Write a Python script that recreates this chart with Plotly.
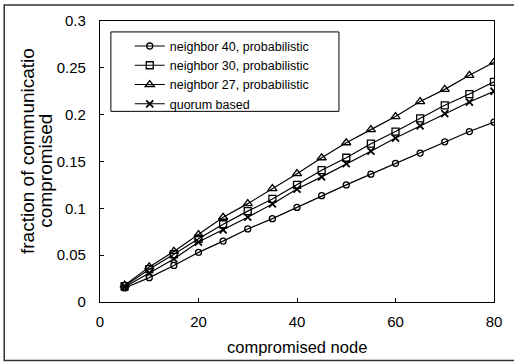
import plotly.graph_objects as go

nodes = [5, 10, 15, 20, 25, 30, 35, 40, 45, 50, 55, 60, 65, 70, 75, 80]
neighbor40 = [0.015, 0.026, 0.039, 0.053, 0.065, 0.078, 0.089, 0.101, 0.1135, 0.125,
              0.1365, 0.148, 0.159, 0.171, 0.182, 0.192]
neighbor30 = [0.017, 0.035, 0.051, 0.0675, 0.083, 0.097, 0.110, 0.125, 0.1407, 0.154,
              0.169, 0.182, 0.196, 0.210, 0.222, 0.235]
neighbor27 = [0.018, 0.0375, 0.054, 0.072, 0.0905, 0.105, 0.121, 0.137, 0.154, 0.170,
              0.184, 0.198, 0.214, 0.227, 0.242, 0.256]
quorum = [0.016, 0.031, 0.046, 0.064, 0.077, 0.0905, 0.1047, 0.1206, 0.1336, 0.1477,
          0.161, 0.175, 0.188, 0.201, 0.2135, 0.225]

series_names = ["neighbor 40, probabilistic", "neighbor 30, probabilistic",
                "neighbor 27, probabilistic", "quorum based"]
x_ticks = [0, 20, 40, 60, 80]
y_ticks = [0, 0.05, 0.1, 0.15, 0.2, 0.25, 0.3]
y_tick_labels = ["0", "0.05", "0.1", "0.15", "0.2", "0.25", "0.3"]

FONT = "Arial, Liberation Sans, sans-serif"

fig = go.Figure()
symbols = ["circle-open", "square-open", "triangle-up-open", "x-thin-open"]
sizes = [6, 7, 8, 7]
for name, ys, sym, sz in zip(series_names, [neighbor40, neighbor30, neighbor27, quorum], symbols, sizes):
    fig.add_trace(go.Scatter(
        x=nodes, y=ys, name=name, mode="lines+markers",
        line=dict(color="black", width=1.2),
        marker=dict(symbol=sym, size=sz, color="black",
                    line=dict(color="black", width=1.3 if sym != "x-thin-open" else 1.8)),
    ))

fig.update_layout(
    width=514, height=363,
    margin=dict(l=100, r=15, t=19, b=61, pad=0),
    paper_bgcolor="white", plot_bgcolor="white",
    font=dict(family=FONT, color="black", size=15),
    showlegend=True,
    legend=dict(
        x=0.0755, y=0.963, xanchor="left", yanchor="top",
        borderwidth=0, bgcolor="rgba(0,0,0,0)",
        font=dict(size=12.5, family=FONT), tracegroupgap=0,
    ),
    xaxis=dict(
        range=[0, 80], tickvals=x_ticks, ticks="inside", ticklen=4, tickcolor="black",
        showline=True, linecolor="black", linewidth=1.2, mirror=True, showgrid=False,
        zeroline=False, tickfont=dict(size=15), ticklabelstandoff=6,
    ),
    yaxis=dict(
        range=[0, 0.3], tickvals=y_ticks, ticktext=y_tick_labels, ticks="inside", ticklen=4,
        tickcolor="black", showline=True, linecolor="black", linewidth=1.2, mirror=True,
        showgrid=False, zeroline=False, tickfont=dict(size=15), ticklabelstandoff=10,
    ),
    annotations=[
        dict(text="compromised node", xref="paper", yref="paper", x=0.5, y=-0.159,
             xanchor="center", yanchor="middle", showarrow=False, font=dict(size=16.5)),
        dict(text="fraction of communicatio", xref="paper", yref="paper", x=-0.1855, y=0.537,
             xanchor="center", yanchor="middle", textangle=-90, showarrow=False, font=dict(size=19)),
        dict(text="compromised", xref="paper", yref="paper", x=-0.1378, y=0.4664,
             xanchor="center", yanchor="middle", textangle=-90, showarrow=False, font=dict(size=19)),
    ],
    shapes=[
        # outer figure frame (open on the right, as in the scan)
        dict(type="rect", xref="paper", yref="paper", x0=-0.2431, x1=1.1, y0=-0.2085, y1=1.0565,
             line=dict(color="#333333", width=1.5), layer="above"),
        # legend box
        dict(type="rect", xref="paper", yref="paper",
             x0=(111 - 100) / 399, x1=(342 - 100) / 399,
             y0=(302 - 110) / 283, y1=(302 - 30) / 283,
             line=dict(color="black", width=1), fillcolor="white", layer="below"),
    ],
)

fig.write_html(
    "out.html",
    config={"displayModeBar": False},
    post_script="document.body.style.margin='0';document.body.style.padding='0';document.body.style.overflow='hidden';",
)
